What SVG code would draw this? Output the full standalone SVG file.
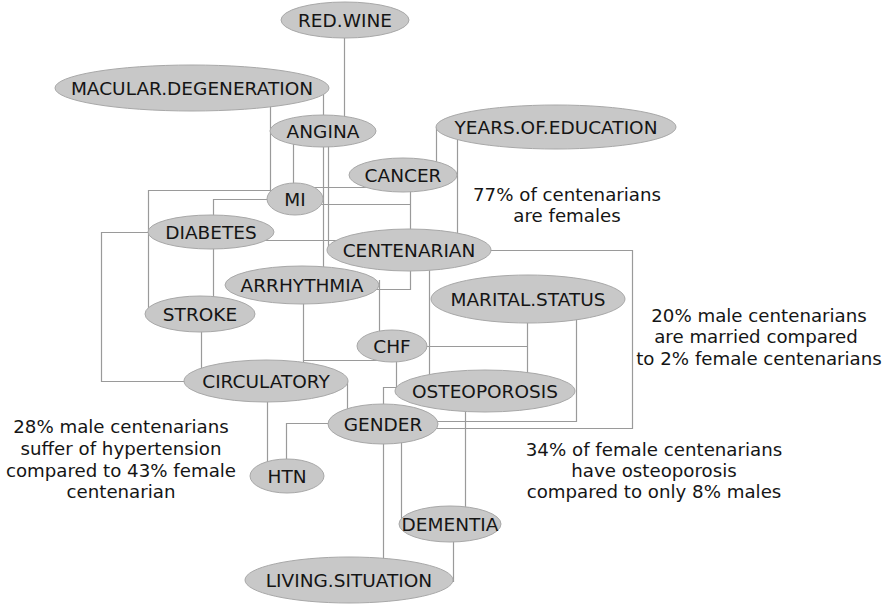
<svg xmlns="http://www.w3.org/2000/svg" width="890" height="608" viewBox="0 0 890 608">
  <defs>
    <style>
      .edge { fill: none; stroke: #9a9a9a; stroke-width: 1.2; }
      .node ellipse { fill: #c8c8c8; stroke: #a8a8a8; stroke-width: 1; }
      .node text { font-family: "DejaVu Sans", Verdana, sans-serif; font-size: 18.5px; fill: #151515; text-anchor: middle; }
      .note { font-family: "DejaVu Sans", Verdana, sans-serif; font-size: 18.2px; fill: #151515; text-anchor: middle; }
    </style>
  </defs>
  <rect width="890" height="608" fill="#ffffff"/>

  <!-- connectors: orthogonal routes drawn beneath the nodes -->
  <g id="connectors">
    <path class="edge" d="M344.5 30 V120"/>
    <path class="edge" d="M323.5 92 V272"/>
    <path class="edge" d="M328.5 140 V250"/>
    <path class="edge" d="M270.5 100 V196"/>
    <path class="edge" d="M293.5 140 V190"/>
    <path class="edge" d="M300 187.5 H390"/>
    <path class="edge" d="M300 204.5 H410.5"/>
    <path class="edge" d="M410.5 180 V250"/>
    <path class="edge" d="M370 289.5 H410.5 V260"/>
    <path class="edge" d="M436.5 127 V172"/>
    <path class="edge" d="M457.5 140 V240"/>
    <path class="edge" d="M480 250.5 H632.5 V428.5 H420"/>
    <path class="edge" d="M576.5 305 V421.5 H420"/>
    <path class="edge" d="M400 346.5 H527.5"/>
    <path class="edge" d="M527.5 305 V385"/>
    <path class="edge" d="M429.5 260 V385"/>
    <path class="edge" d="M379.5 280 V340"/>
    <path class="edge" d="M396.5 350 V395"/>
    <path class="edge" d="M303.5 290 V360.5 H385"/>
    <path class="edge" d="M303.5 360 V372"/>
    <path class="edge" d="M420 387.5 H383.5 V415"/>
    <path class="edge" d="M347.5 381 V418"/>
    <path class="edge" d="M267.5 390 V468"/>
    <path class="edge" d="M286.5 470 V423.5 H345"/>
    <path class="edge" d="M383.5 430 V565"/>
    <path class="edge" d="M401.5 430 V526"/>
    <path class="edge" d="M465.5 400 V515"/>
    <path class="edge" d="M453.5 530 V582"/>
    <path class="edge" d="M280 190.5 H148.5 V312"/>
    <path class="edge" d="M280 199.5 H213.5 V225"/>
    <path class="edge" d="M213.5 240 V305"/>
    <path class="edge" d="M160 232.5 H101.5 V381.5 H200"/>
    <path class="edge" d="M260 240.5 H340"/>
    <path class="edge" d="M201.5 320 V375"/>
  </g>

  <g id="node-red-wine" class="node">
    <ellipse cx="345" cy="20" rx="64" ry="18"/>
    <text x="345" y="26.5">RED.WINE</text>
  </g>
  <g id="node-macular-degeneration" class="node">
    <ellipse cx="192" cy="88" rx="137" ry="23"/>
    <text x="192" y="94.5">MACULAR.DEGENERATION</text>
  </g>
  <g id="node-angina" class="node">
    <ellipse cx="323" cy="131" rx="53" ry="16"/>
    <text x="323" y="137.5">ANGINA</text>
  </g>
  <g id="node-years-of-education" class="node">
    <ellipse cx="556" cy="127" rx="120" ry="22"/>
    <text x="556" y="133.5">YEARS.OF.EDUCATION</text>
  </g>
  <g id="node-cancer" class="node">
    <ellipse cx="403" cy="175" rx="54" ry="17"/>
    <text x="403" y="181.5">CANCER</text>
  </g>
  <g id="node-mi" class="node">
    <ellipse cx="295" cy="199" rx="28" ry="16"/>
    <text x="295" y="205.5">MI</text>
  </g>
  <g id="node-diabetes" class="node">
    <ellipse cx="211" cy="232" rx="63" ry="17"/>
    <text x="211" y="238.5">DIABETES</text>
  </g>
  <g id="node-centenarian" class="node">
    <ellipse cx="409" cy="250" rx="82" ry="21"/>
    <text x="409" y="256.5">CENTENARIAN</text>
  </g>
  <g id="node-arrhythmia" class="node">
    <ellipse cx="302" cy="285" rx="77" ry="19"/>
    <text x="302" y="291.5">ARRHYTHMIA</text>
  </g>
  <g id="node-stroke" class="node">
    <ellipse cx="200" cy="314" rx="55" ry="18"/>
    <text x="200" y="320.5">STROKE</text>
  </g>
  <g id="node-marital-status" class="node">
    <ellipse cx="528" cy="299" rx="97" ry="24"/>
    <text x="528" y="305.5">MARITAL.STATUS</text>
  </g>
  <g id="node-chf" class="node">
    <ellipse cx="392" cy="346" rx="35" ry="16"/>
    <text x="392" y="352.5">CHF</text>
  </g>
  <g id="node-circulatory" class="node">
    <ellipse cx="266" cy="381" rx="82" ry="21"/>
    <text x="266" y="387.5">CIRCULATORY</text>
  </g>
  <g id="node-osteoporosis" class="node">
    <ellipse cx="485" cy="391" rx="90" ry="21"/>
    <text x="485" y="397.5">OSTEOPOROSIS</text>
  </g>
  <g id="node-gender" class="node">
    <ellipse cx="383" cy="424" rx="55" ry="20"/>
    <text x="383" y="430.5">GENDER</text>
  </g>
  <g id="node-htn" class="node">
    <ellipse cx="287" cy="476" rx="37" ry="17"/>
    <text x="287" y="482.5">HTN</text>
  </g>
  <g id="node-dementia" class="node">
    <ellipse cx="450" cy="524" rx="51" ry="18"/>
    <text x="450" y="530.5">DEMENTIA</text>
  </g>
  <g id="node-living-situation" class="node">
    <ellipse cx="349" cy="580" rx="104" ry="23"/>
    <text x="349" y="586.5">LIVING.SITUATION</text>
  </g>

  <!-- annotations -->
  <g id="notes">
    <text class="note" x="567" y="201">77% of centenarians</text>
    <text class="note" x="567" y="222">are females</text>
    <text class="note" x="759" y="322">20% male centenarians</text>
    <text class="note" x="756" y="343">are married compared</text>
    <text class="note" x="759" y="365">to 2% female centenarians</text>
    <text class="note" x="121" y="433">28% male centenarians</text>
    <text class="note" x="121" y="455">suffer of hypertension</text>
    <text class="note" x="121" y="477">compared to 43% female</text>
    <text class="note" x="121" y="498">centenarian</text>
    <text class="note" x="654" y="456">34% of female centenarians</text>
    <text class="note" x="654" y="477">have osteoporosis</text>
    <text class="note" x="654" y="498">compared to only 8% males</text>
  </g>
</svg>
